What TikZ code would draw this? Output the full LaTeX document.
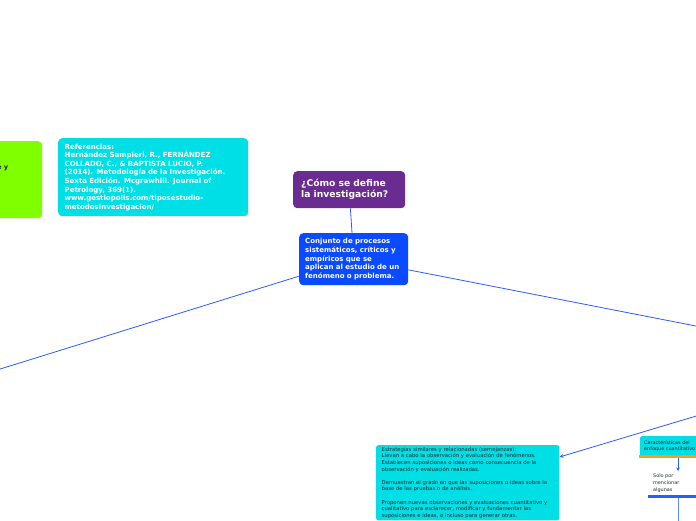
\documentclass[tikz,border=0pt]{standalone}
\usepackage{fontspec}
\setmainfont{DejaVu Sans}
\usetikzlibrary{arrows.meta}
\definecolor{cyanbox}{HTML}{00DFE6}
\definecolor{greenbox}{HTML}{80FF00}
\definecolor{purplebox}{HTML}{6A2C91}
\definecolor{bluebox}{HTML}{0A4BFF}
\definecolor{linkblue}{HTML}{2A5CFF}
\definecolor{lightlink}{HTML}{5A8CFF}
\definecolor{orangebar}{HTML}{FF9A1A}
\definecolor{darktext}{HTML}{1E2A30}
\tikzset{
  box/.style={rounded corners=4pt, draw=none, anchor=north west, align=left},
  refbox/.style={box, fill=cyanbox, text=white, font=\bfseries\fontsize{7}{8.6}\selectfont, text width=177pt, inner xsep=6.5pt, minimum height=78pt},
  purplestyle/.style={box, fill=purplebox, text=white, font=\bfseries\fontsize{9.2}{11}\selectfont, text width=96pt, inner xsep=8pt, minimum height=37pt},
  bluestyle/.style={box, fill=bluebox, text=white, font=\bfseries\fontsize{7}{8.7}\selectfont, text width=97pt, inner xsep=6pt, minimum height=52pt},
  greenstyle/.style={box, fill=greenbox, minimum width=102pt, minimum height=77pt},
  smallbox/.style={box, fill=cyanbox, text=darktext, font=\fontsize{5.3}{6.6}\selectfont, text width=172pt, inner xsep=5.5pt, inner ysep=2pt, rounded corners=2pt},
  link/.style={draw=linkblue, line width=0.8pt},
  smalltext/.style={text=darktext, font=\fontsize{4.9}{7}\selectfont, align=left, anchor=north west, inner sep=0pt}
}
\begin{document}
\begin{tikzpicture}[x=1pt,y=-1pt]
\useasboundingbox (0,0) rectangle (696,520);
% green box (cut off at left)
\node[greenstyle] (green) at (-60,141) {};
\node[font=\bfseries\fontsize{6.6}{9}\selectfont, text=darktext, anchor=base east, inner sep=0pt] (greentext) at (8.5,169) {de y};
% references
\node[refbox] (refs) at (58,138) {Referencias:\\
Hernández Sampieri, R., FERNÁNDEZ\\
COLLADO, C., \& BAPTISTA LUCIO, P.\\
(2014). Metodología de la Investigación.\\
Sexta Edición. Mcgrawhill. Journal of\\
Petrology, 369(1).\\
www.gestiopolis.com/tiposestudio-\\
metodosinvestigacion/};
% title
\node[purplestyle] (title) at (293,171) {¿Cómo se define\\la investigación?};
% main
\node[bluestyle] (main) at (299,233) {Conjunto de procesos\\
sistemáticos, críticos y\\
empíricos que se\\
aplican al estudio de un\\
fenómeno o problema.};
% off-page ends
\coordinate (offleft) at (-50,384.6);
\coordinate (offright) at (760,338.5);
\coordinate (offright2) at (760,396.9);
\coordinate (estrin) at (559.5,457);
% links
\draw[link] (title) -- (main);
\draw[link] (main) -- (offleft);
\draw[link] (main) -- (offright);
% estrategias box
\node[smallbox] (estr) at (376,445) {Estrategias similares y relacionadas (semejanzas):\\
Llevan a cabo la observación y evaluación de fenómenos.\\
Establecen suposiciones o ideas como consecuencia de la\\
observación y evaluación realizadas.\\[6.6pt]
Demuestran el grado en que las suposiciones o ideas sobre la\\
base de las pruebas o de análisis.\\[6.6pt]
Proponen nuevas observaciones y evaluaciones cuantitativo y\\
cualitativo para esclarecer, modificar y fundamentar las\\
suposiciones e ideas, o incluso para generar otras.};
\draw[link, -{Stealth[length=4pt, width=3.5pt]}] (offright2) -- (estrin);
% caracteristicas box
\node[box, fill=cyanbox, text=darktext, font=\fontsize{4.9}{6.6}\selectfont, text width=60pt, inner xsep=4pt, inner ysep=3.5pt, minimum height=20pt, rounded corners=1.5pt] (carac) at (640,436) {Características del\\enfoque cuantitativo};
\draw[orangebar, line width=2.4pt] (carac.south west) ++(-1,0) coordinate (orl) -- (carac.south east) coordinate (orr);
\coordinate (arrtop) at (678,458);
\coordinate (arrbot) at (678,471);
\draw[link, -{Stealth[length=3.5pt, width=3.5pt]}] (arrtop) -- (arrbot);
\node[smalltext] (solo) at (653,474) {Solo por\\mencionar\\algunas};
\coordinate (barl) at (648,496.5);
\coordinate (barr) at (700,496.5);
\draw[linkblue, line width=2.2pt] (barl) -- (barr);
\coordinate (vtop) at (678,497.5);
\coordinate (vbot) at (678,525);
\draw[lightlink, line width=1pt] (vtop) -- (vbot);
\end{tikzpicture}
\end{document}
